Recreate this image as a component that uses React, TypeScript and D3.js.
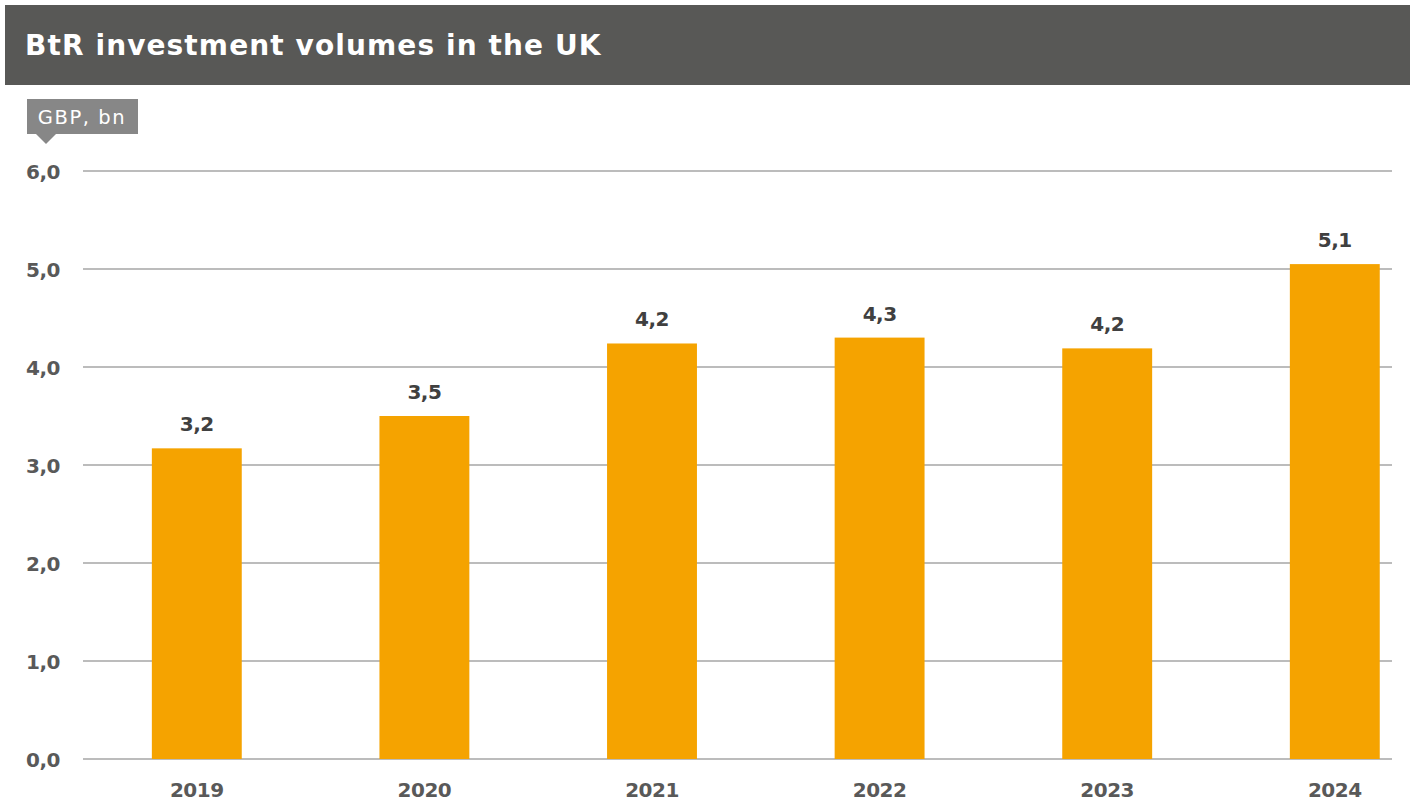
import React from "react";
import * as d3 from "d3";

const categories = ["2019", "2020", "2021", "2022", "2023", "2024"];
const values = [3.17, 3.5, 4.24, 4.3, 4.19, 5.05];
const valueLabels = ["3,2", "3,5", "4,2", "4,3", "4,2", "5,1"];
const yTicks = [0, 1, 2, 3, 4, 5, 6];
const yTickLabels = ["0,0", "1,0", "2,0", "3,0", "4,0", "5,0", "6,0"];
const title = "BtR investment volumes in the UK";
const unitLabel = "GBP, bn";

const W = 1413;
const H = 801;

export default function App() {
  const y = d3.scaleLinear().domain([0, 6]).range([759, 171]);
  const x = d3
    .scaleBand<string>()
    .domain(categories)
    .range([83, 83 + 6 * 227.6])
    .paddingInner(0.605)
    .paddingOuter(0.3025);
  const gridX0 = 83;
  const gridX1 = 1392;
  const numFont = "'DejaVu Sans', sans-serif";

  return (
    <svg
      width={W}
      height={H}
      style={{ position: "absolute", left: 0, top: 0, display: "block", background: "#fff" }}
    >
      <rect x={5} y={5} width={1405} height={80} fill="#585856" />
      <text
        x={25}
        y={55}
        fill="#ffffff"
        fontFamily={numFont}
        fontWeight={700}
        fontSize={28}
        letterSpacing={1.1}
      >
        {title}
      </text>

      <rect x={27} y={99} width={111} height={35} fill="#878787" />
      <path d="M36,134 L46,144 L56,134 Z" fill="#878787" />
      <text
        x={82}
        y={123.5}
        textAnchor="middle"
        fill="#ffffff"
        fontFamily={numFont}
        fontSize={19.5}
        letterSpacing={1.6}
      >
        {unitLabel}
      </text>

      {yTicks.map((t, i) => (
        <g key={t}>
          <line
            x1={gridX0}
            x2={gridX1}
            y1={y(t)}
            y2={y(t)}
            stroke="#a6a6a6"
            strokeWidth={1.6}
          />
          <text
            x={60}
            y={y(t) + 7.5}
            textAnchor="end"
            fill="#595959"
            fontFamily={numFont}
            fontWeight={700}
            fontSize={20}
            letterSpacing={-0.5}
          >
            {yTickLabels[i]}
          </text>
        </g>
      ))}

      {categories.map((c, i) => {
        const bx = x(c)!;
        const bw = x.bandwidth();
        const top = y(values[i]);
        return (
          <g key={c}>
            <rect x={bx} y={top} width={bw} height={y(0) - top} fill="#F5A300" />
            <text
              x={bx + bw / 2}
              y={top - 17}
              textAnchor="middle"
              fill="#404040"
              fontFamily={numFont}
              fontWeight={700}
              fontSize={20}
              letterSpacing={-0.5}
            >
              {valueLabels[i]}
            </text>
            <text
              x={bx + bw / 2}
              y={797}
              textAnchor="middle"
              fill="#595959"
              fontFamily={numFont}
              fontWeight={700}
              fontSize={20}
              letterSpacing={-0.5}
            >
              {c}
            </text>
          </g>
        );
      })}
    </svg>
  );
}
